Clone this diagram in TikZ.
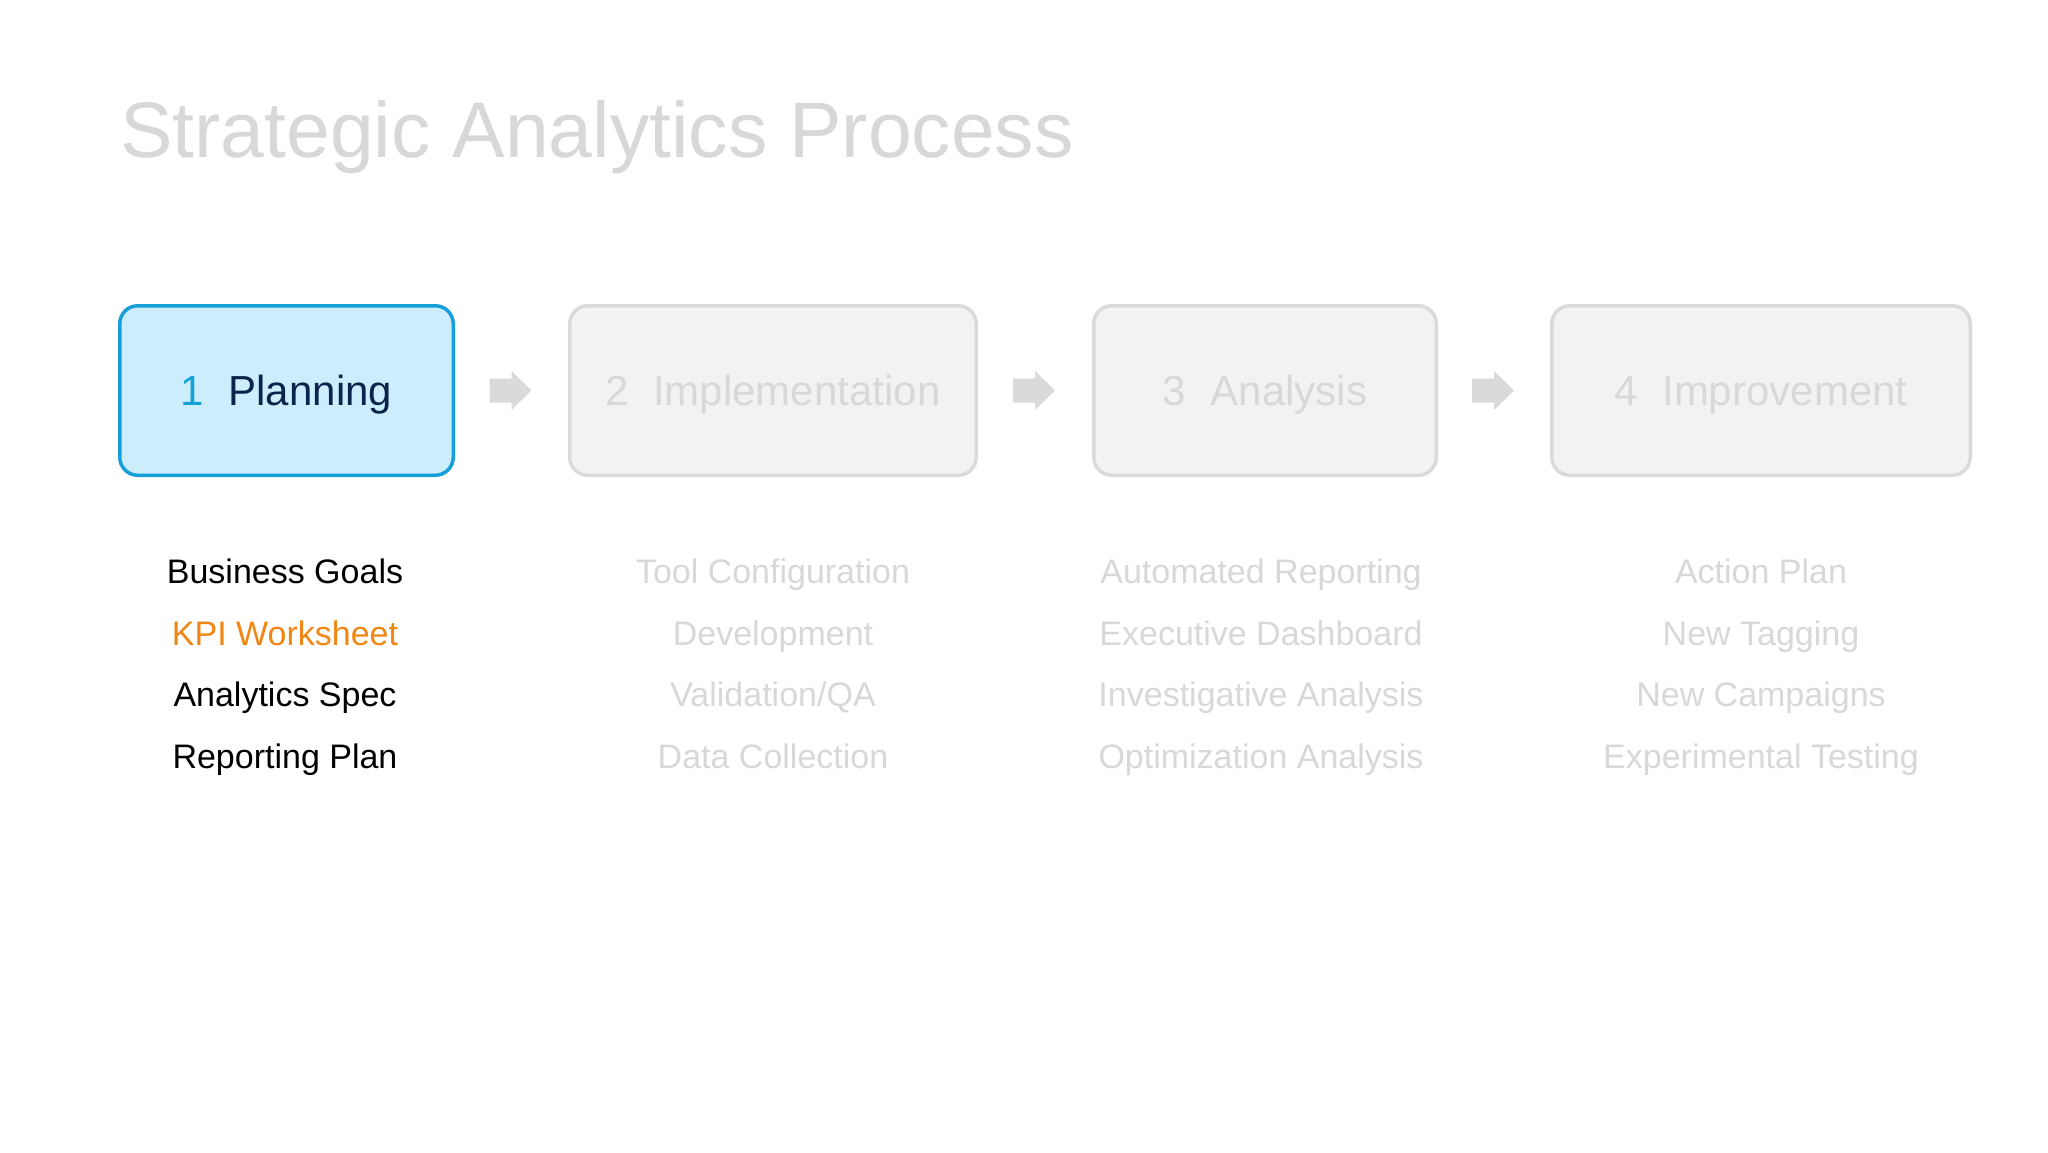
\documentclass[tikz,border=0pt]{standalone}
\usepackage{fontspec}
\setmainfont{Liberation Sans}
\definecolor{actline}{RGB}{22,160,218}
\definecolor{actfill}{RGB}{204,238,252}
\definecolor{actnum}{RGB}{22,160,218}
\definecolor{acttext}{RGB}{12,36,76}
\definecolor{grayline}{RGB}{218,218,218}
\definecolor{grayfill}{RGB}{242,242,242}
\definecolor{graytext}{RGB}{216,216,216}
\definecolor{titlegray}{RGB}{216,216,216}
\definecolor{kpiorange}{RGB}{240,135,20}
\begin{document}
\begin{tikzpicture}[x=1pt,y=-1pt,
  stagebox/.style={draw=grayline, fill=grayfill, line width=3.5pt, rounded corners=18pt,
    minimum height=169.5pt, inner sep=0pt, text height=30pt, text depth=0pt,
    font=\fontsize{42}{50}\selectfont, text=graytext},
  activebox/.style={stagebox, draw=actline, fill=actfill, text=acttext},
  item/.style={anchor=base, inner sep=0pt, font=\fontsize{34}{41}\selectfont, text=graytext},
  blockarrow/.style={fill=grayline, draw=none}
]
\path[fill=white] (0,0) rectangle (2048,1152);
\useasboundingbox (0,0) rectangle (2048,1152);

\node[anchor=base west, inner sep=0pt, font=\fontsize{78.7}{94}\selectfont, text=titlegray]
  (title) at (120,157) {Strategic Analytics Process};

\node[activebox, minimum width=333.5pt] (b1) at (286.5,390.5)
  {\textcolor{actnum}{1}\hspace{0.58em}Planning};
\node[stagebox, minimum width=406.5pt] (b2) at (773,390.5)
  {2\hspace{0.58em}Implementation};
\node[stagebox, minimum width=342.5pt] (b3) at (1265,390.5)
  {3\hspace{0.58em}Analysis};
\node[stagebox, minimum width=418.5pt] (b4) at (1761,390.5)
  {4\hspace{0.58em}Improvement};

\foreach \a/\b/\n in {b1/b2/m1, b2/b3/m2, b3/b4/m3}{
  \path (\a.east) -- (\b.west) coordinate[pos=0.5] (\n);
  \fill[blockarrow] ([xshift=-22pt,yshift=-12pt]\n) -- ([xshift=0pt,yshift=-12pt]\n)
    -- ([xshift=0pt,yshift=-19.5pt]\n) -- ([xshift=20pt]\n)
    -- ([xshift=0pt,yshift=19.5pt]\n) -- ([xshift=0pt,yshift=12pt]\n)
    -- ([xshift=-22pt,yshift=12pt]\n) -- cycle;
}

% column 1
\node[item, text=black]      (c11) at (285,583) {Business Goals};
\node[item, text=kpiorange]  (c12) at (285,645) {KPI Worksheet};
\node[item, text=black]      (c13) at (285,706) {Analytics Spec};
\node[item, text=black]      (c14) at (285,768) {Reporting Plan};
% column 2
\node[item] (c21) at (773,583) {Tool Configuration};
\node[item] (c22) at (773,645) {Development};
\node[item] (c23) at (773,706) {Validation/QA};
\node[item] (c24) at (773,768) {Data Collection};
% column 3
\node[item] (c31) at (1261,583) {Automated Reporting};
\node[item] (c32) at (1261,645) {Executive Dashboard};
\node[item] (c33) at (1261,706) {Investigative Analysis};
\node[item] (c34) at (1261,768) {Optimization Analysis};
% column 4
\node[item] (c41) at (1761,583) {Action Plan};
\node[item] (c42) at (1761,645) {New Tagging};
\node[item] (c43) at (1761,706) {New Campaigns};
\node[item] (c44) at (1761,768) {Experimental Testing};
\end{tikzpicture}
\end{document}
